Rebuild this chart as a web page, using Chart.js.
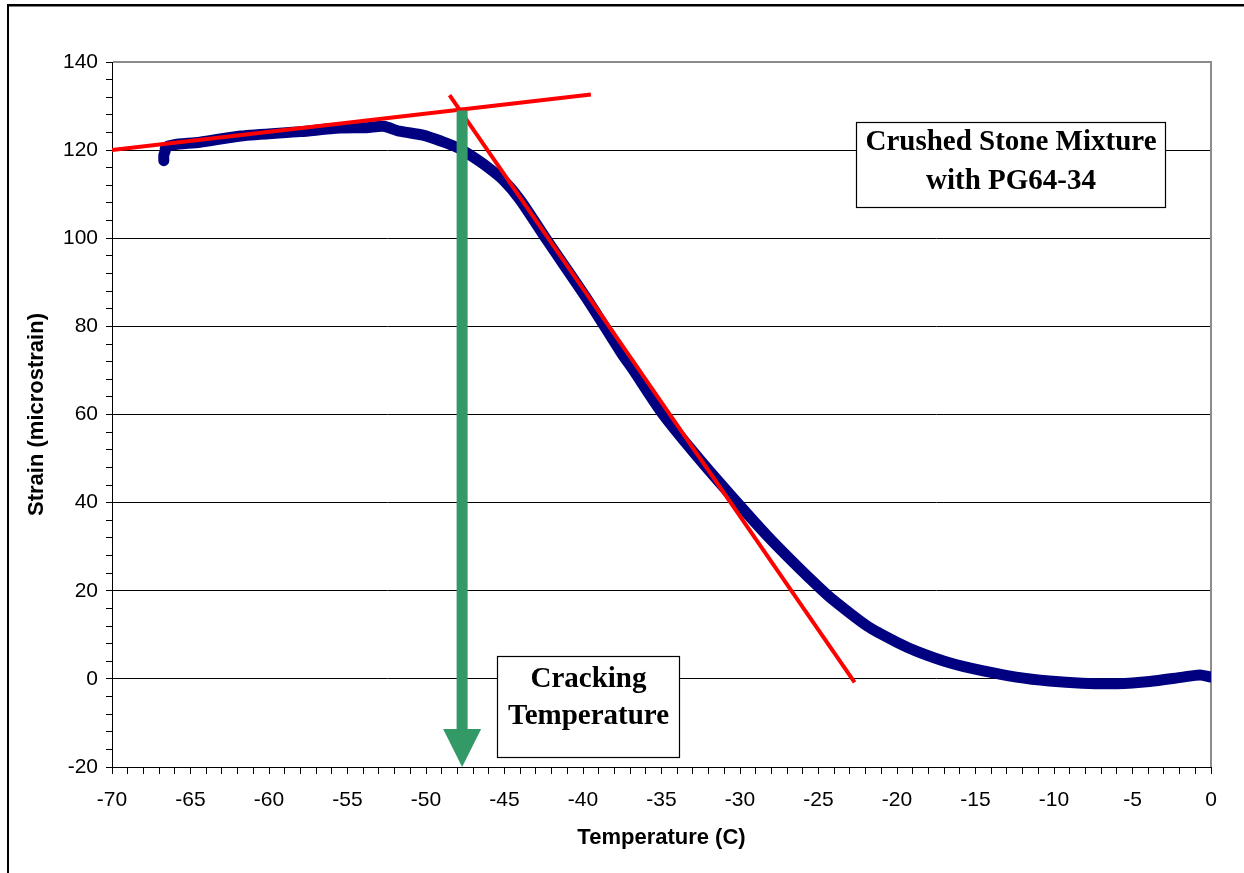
<!DOCTYPE html>
<html><head><meta charset="utf-8">
<script src="https://cdn.jsdelivr.net/npm/chart.js@4.4.0/dist/chart.umd.min.js"></script>
<style>html,body{margin:0;padding:0;background:#fff;} #wrap{width:1244px;height:873px;position:relative;} canvas{display:block;}</style>
</head><body><div id="wrap"><canvas id="c"></canvas></div>
<script>
// ---- data ----
const temperatureC = [-66.7, -66.7, -66.6, -66.6, -66.1, -64.4, -61.8, -58.0, -55.5, -53.8, -52.7, -51.7, -50.2, -49.0, -48.0, -47.2, -46.1, -45.1, -44.0, -42.3, -39.7, -37.6, -36.8, -34.9, -32.5, -30.0, -28.3, -26.2, -25.0, -24.1, -21.9, -20.0, -18.7, -16.6, -14.5, -12.4, -10.3, -8.2, -6.0, -3.9, -1.8, -0.7, 0.0];
const strainMicro  = [117.6, 118.8, 120.0, 120.6, 121.2, 121.8, 123.2, 124.2, 125.0, 125.1, 125.4, 124.3, 123.4, 122.0, 120.6, 118.9, 116.2, 113.3, 108.7, 99.6, 86.0, 74.2, 70.1, 60.0, 49.5, 39.3, 32.6, 25.0, 20.9, 18.0, 12.0, 8.3, 6.2, 3.6, 1.8, 0.4, -0.5, -1.0, -1.1, -0.6, 0.4, 0.9, 0.4];
const tangentFlatT  = [-70, -39.5];
const tangentFlatS  = [120, 132.6];
const tangentSteepT = [-48.5, -22.7];
const tangentSteepS = [132.5, -0.8];
const crackingTemperature = -47.7;
const arrowTopStrain = 129;
const xRange = [-70, 0];
const yRange = [-20, 140];
const xLabelEvery = 5;
const yLabelEvery = 20;
const boxCrushedText  = ['Crushed Stone Mixture', 'with PG64-34'];
const boxCrackingText = ['Cracking', 'Temperature'];
const xTitle = 'Temperature (C)';
const yTitle = 'Strain (microstrain)';

const toXY = (xs, ys) => xs.map((x, i) => ({x, y: ys[i]}));
const SANS = '"Liberation Sans", Arial, sans-serif';
const SERIF = '"Liberation Serif", "Times New Roman", serif';

const decor = {
  id: 'decor',
  beforeDatasetsDraw(chart) {
    const {ctx, chartArea: a} = chart;
    ctx.save();
    ctx.strokeStyle = '#8c8c8c';
    ctx.lineWidth = 2;
    ctx.beginPath();
    ctx.moveTo(a.left + 1, a.top);
    ctx.lineTo(a.right, a.top);
    ctx.lineTo(a.right, a.bottom);
    ctx.stroke();
    ctx.restore();
  },
  afterDatasetsDraw(chart) {
    const {ctx, scales: {x, y}} = chart;
    ctx.save();
    // arrow
    const ax = x.getPixelForValue(crackingTemperature);
    const top = y.getPixelForValue(arrowTopStrain);
    const tip = y.getPixelForValue(yRange[0]);
    ctx.fillStyle = '#339966';
    ctx.fillRect(ax - 5.5, top, 11, tip - 38 - top + 1);
    ctx.beginPath();
    ctx.moveTo(ax - 19, tip - 38);
    ctx.lineTo(ax + 19, tip - 38);
    ctx.lineTo(ax, tip);
    ctx.closePath();
    ctx.fill();
    // text boxes
    const drawBox = (l, t, w, h, lines, baselines) => {
      ctx.fillStyle = '#fff';
      ctx.fillRect(l, t, w, h);
      ctx.strokeStyle = '#000';
      ctx.lineWidth = 1.2;
      ctx.strokeRect(l + 0.5, t + 0.5, w, h);
      ctx.fillStyle = '#000';
      ctx.font = 'bold 29px ' + SERIF;
      ctx.textAlign = 'center';
      ctx.textBaseline = 'alphabetic';
      lines.forEach((s, i) => ctx.fillText(s, l + w / 2 + 0.5, baselines[i]));
    };
    drawBox(856, 122, 309, 85, boxCrushedText, [150, 189]);
    drawBox(497, 656, 182, 101, boxCrackingText, [687, 724]);
    ctx.restore();
  },
  afterDraw(chart) {
    const {ctx} = chart;
    ctx.save();
    ctx.fillStyle = '#000';
    ctx.fillRect(7, 4, 2, 869);
    ctx.fillRect(7, 4, 1237, 2.5);
    ctx.restore();
  }
};

new Chart(document.getElementById('c'), {
  type: 'line',
  data: {
    datasets: [
      { data: toXY(tangentFlatT, tangentFlatS), borderColor: '#ff0000', borderWidth: 4, pointRadius: 0, tension: 0, borderCapStyle: 'butt' },
      { data: toXY(tangentSteepT, tangentSteepS), borderColor: '#ff0000', borderWidth: 4, pointRadius: 0, tension: 0, borderCapStyle: 'butt' },
      { data: toXY(temperatureC, strainMicro), borderColor: '#000080', borderWidth: 11, pointRadius: 0, tension: 0.25,
        borderJoinStyle: 'round', borderCapStyle: 'round' }
    ]
  },
  options: {
    responsive: true,
    maintainAspectRatio: false,
    animation: false,
    layout: { padding: { left: 0, top: 62, right: 33, bottom: 0 } },
    plugins: { legend: { display: false }, tooltip: { enabled: false } },
    scales: {
      x: {
        type: 'linear', position: 'bottom', min: xRange[0], max: xRange[1],
        afterFit: s => { s.height = 106; },
        ticks: {
          stepSize: 1, maxTicksLimit: 200, autoSkip: false, maxRotation: 0, minRotation: 0,
          color: '#000', padding: 14, font: { family: SANS, size: 21 },
          callback: v => { const r = Math.round(v); return r % xLabelEvery === 0 ? String(r) : ''; }
        },
        grid: { drawOnChartArea: false, tickLength: 7, color: '#000', tickColor: '#000', lineWidth: 1 },
        border: { color: '#000', width: 1 },
        title: { display: true, text: xTitle, color: '#000', font: { family: SANS, size: 22, weight: 'bold' }, padding: { top: 0, bottom: 22 } }
      },
      y: {
        type: 'linear', position: 'left', min: yRange[0], max: yRange[1],
        afterFit: s => { s.width = 112; },
        ticks: {
          stepSize: 4, maxTicksLimit: 200, autoSkip: false,
          color: '#000', padding: 8, font: { family: SANS, size: 21 },
          callback: v => { const r = Math.round(v); return r % yLabelEvery === 0 ? String(r) : ''; }
        },
        grid: {
          tickLength: 6, lineWidth: 1, tickColor: '#000',
          color: c => { const r = Math.round(c.tick.value); return (r % yLabelEvery === 0 && r !== yRange[1] && r !== yRange[0]) ? '#000' : 'rgba(0,0,0,0)'; }
        },
        border: { color: '#000', width: 1 },
        title: { display: true, text: yTitle, color: '#000', font: { family: SANS, size: 22, weight: 'bold' }, padding: { top: 24, bottom: 0 } }
      }
    }
  },
  plugins: [decor]
});
</script>
</body></html>
